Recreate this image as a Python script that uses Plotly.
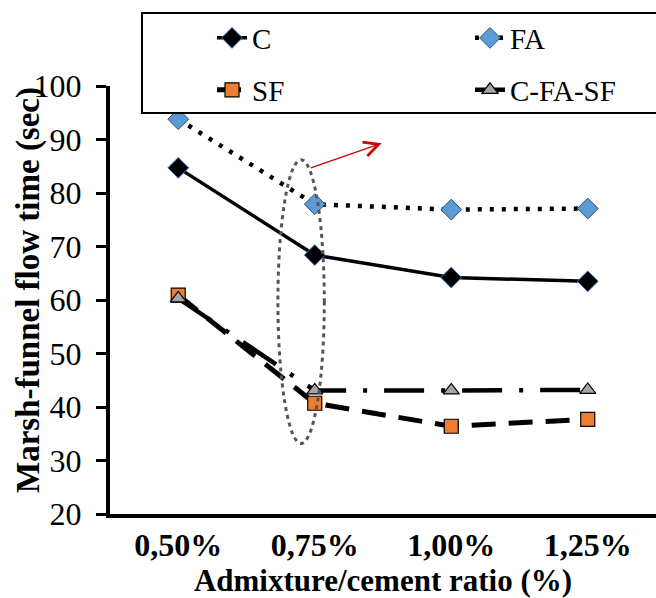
import plotly.graph_objects as go

categories = ["0,50%", "0,75%", "1,00%", "1,25%"]
c_vals = [84.7, 68.4, 64.2, 63.5]
fa_vals = [93.8, 77.9, 76.9, 77.1]
sf_vals = [60.9, 40.7, 36.4, 37.7]
cfasf_vals = [60.3, 43.1, 43.1, 43.2]

xs = list(range(len(categories)))
FONT = "Liberation Serif"

fig = go.Figure()
fig.add_trace(go.Scatter(
    x=xs, y=c_vals, name="C", mode="lines+markers", legend="legend",
    line=dict(color="black", width=3.5),
    marker=dict(symbol="diamond", size=16, color="black", line=dict(color="#4472C4", width=1))))
fig.add_trace(go.Scatter(
    x=xs, y=fa_vals, name="FA", mode="lines+markers", legend="legend2",
    line=dict(color="black", width=4.5, dash="4px,8px"),
    marker=dict(symbol="diamond", size=16, color="#5B9BD5", line=dict(color="#2F4F6F", width=1))))
fig.add_trace(go.Scatter(
    x=xs, y=sf_vals, name="SF", mode="lines+markers", legend="legend3",
    line=dict(color="black", width=5, dash="24px,13px"),
    marker=dict(symbol="square", size=14, color="#ED7D31", line=dict(color="black", width=1.2))))
fig.add_trace(go.Scatter(
    x=xs, y=cfasf_vals, name="C-FA-SF", mode="lines+markers", legend="legend4",
    line=dict(color="black", width=4.5, dash="40px,17px,4px,17px"),
    marker=dict(symbol="triangle-up", size=14, color="#A5A5A5", line=dict(color="black", width=1.2))))

# dotted ellipse highlight
fig.add_shape(type="circle", xref="x", yref="y", x0=0.73, x1=1.07, y0=33.2, y1=86.2,
              line=dict(color="#555555", width=3, dash="4px,4px"), layer="above")

# legend frame
fig.add_shape(type="rect", xref="paper", yref="paper", x0=0.0586, x1=1.02, y0=0.937, y1=1.1706,
              line=dict(color="black", width=2), fillcolor="white", layer="above")

# red arrow
fig.add_annotation(x=1.49, y=89.3, ax=0.96, ay=84.6, xref="x", yref="y", axref="x", ayref="y",
                   showarrow=True, arrowhead=5, arrowsize=2.2, arrowwidth=1.3, arrowcolor="#D00000", text="")

# y-axis title
fig.add_annotation(text="<b>Marsh-funnel flow time (sec)</b>", xref="paper", yref="paper",
                   x=(28 - 110) / 546, y=(514 - 290) / 428, textangle=-90, showarrow=False,
                   font=dict(family=FONT, size=33, color="black"), xanchor="center", yanchor="middle")

leg_common = dict(orientation="v", xref="paper", yref="paper", xanchor="left", yanchor="middle",
                  bgcolor="rgba(0,0,0,0)", borderwidth=0,
                  font=dict(family=FONT, size=29, color="black"))

row1 = (514 - 38) / 428
row2 = (514 - 90) / 428
col1 = (212 - 110) / 546
col2 = (470 - 110) / 546

fig.update_layout(
    width=656, height=598,
    margin=dict(l=110, r=0, t=86, b=84, autoexpand=False),
    paper_bgcolor="white", plot_bgcolor="white",
    font=dict(family=FONT, color="black"),
    showlegend=True,
    legend=dict(x=col1, y=row1, **leg_common),
    legend2=dict(x=col2, y=row1, **leg_common),
    legend3=dict(x=col1, y=row2, **leg_common),
    legend4=dict(x=col2, y=row2, **leg_common),
    xaxis=dict(range=[-0.5, 3.5], tickmode="array", tickvals=xs, ticktext=categories,
               showline=True, linecolor="black", linewidth=4, ticks="", showgrid=False, zeroline=False,
               tickfont=dict(family=FONT, size=32, color="black", weight="bold"),
               title=dict(text="<b>Admixture/cement ratio (%)</b>", font=dict(family=FONT, size=31), standoff=2)),
    yaxis=dict(range=[20, 100], dtick=10, showline=True, linecolor="black", linewidth=4,
               ticks="outside", ticklen=10, tickwidth=3, tickcolor="black", showgrid=False, zeroline=False,
               ticklabelstandoff=8,
               tickfont=dict(family=FONT, size=32, color="black")),
)

fig.write_html("out.html", config={"displayModeBar": False},
               post_script="document.body.style.margin='0px';")
